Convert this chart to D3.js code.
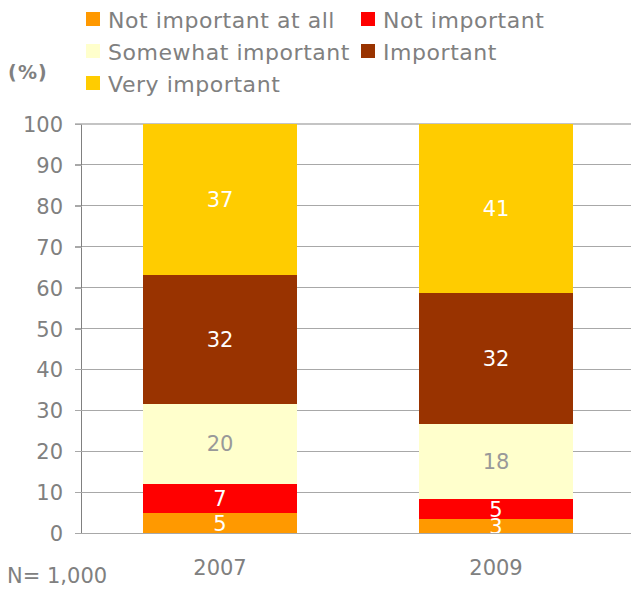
<!DOCTYPE html>
<html>
<head>
<meta charset="utf-8">
<script src="https://cdn.jsdelivr.net/npm/d3@7"></script>
<style>
  html, body { margin: 0; padding: 0; background: #fff; }
  svg { display: block; font-family: "DejaVu Sans", Verdana, sans-serif; }
</style>
</head>
<body>
<svg id="chart" width="631" height="589"></svg>
<script>
// ---- data ----
const years = ["2007", "2009"];
const seriesNames = ["Not important at all", "Not important", "Somewhat important", "Important", "Very important"];
const seriesColors = ["#FF9900", "#FF0000", "#FFFFCC", "#993300", "#FFCC00"];
const labelColors = ["#ffffff", "#ffffff", "#999999", "#ffffff", "#ffffff"];
const notAtAll   = [4.9, 3.4];
const notImp     = [7.1, 4.9];
const somewhat   = [19.6, 18.4];
const important  = [31.6, 31.9];
const veryImp    = [36.8, 41.4];
const yTicks = [0, 10, 20, 30, 40, 50, 60, 70, 80, 90, 100];
const unitLabel = "(%)";
const noteLabel = "N= 1,000";

// ---- layout ----
const svg = d3.select("#chart");
const x0 = 82, x1 = 634, yTop = 124, yBot = 533;
const gray = "#808080";

const x = d3.scaleBand().domain(years).range([x0, x1]).paddingInner(0.44).paddingOuter(0.22);
const y = d3.scaleLinear().domain([0, 100]).range([yBot, yTop]);

const table = years.map((yr, i) => {
  const row = { year: yr };
  [notAtAll, notImp, somewhat, important, veryImp].forEach((arr, k) => row[seriesNames[k]] = arr[i]);
  return row;
});
const stacked = d3.stack().keys(seriesNames)(table);

// gridlines
const grid = svg.append("g");
grid.selectAll("line").data(yTicks.filter(t => t > 0)).join("line")
  .attr("x1", x0 - 7).attr("x2", x1)
  .attr("y1", d => y(d)).attr("y2", d => y(d))
  .attr("stroke", d => d === 100 ? "#c4c4c4" : "#a8a8a8")
  .attr("stroke-width", d => d === 100 ? 2 : 1)
  .attr("shape-rendering", "crispEdges");

// bars
const bars = svg.append("g");
stacked.forEach((s, k) => {
  bars.append("g").attr("fill", seriesColors[k])
    .selectAll("rect").data(s).join("rect")
    .attr("x", d => x(d.data.year))
    .attr("width", x.bandwidth())
    .attr("y", d => y(d[1]))
    .attr("height", d => y(d[0]) - y(d[1]))
    .attr("shape-rendering", "crispEdges");
});

// axes
const yAxis = d3.axisLeft(y).tickValues(yTicks).tickSize(7).tickPadding(12);
const ya = svg.append("g").attr("transform", `translate(${x0},0)`).call(yAxis);
ya.select(".domain").attr("stroke", gray).attr("shape-rendering", "crispEdges").attr("d", `M-0.5,${yTop}V${yBot}`);
ya.selectAll(".tick line").attr("stroke", "#a8a8a8").attr("shape-rendering", "crispEdges");
ya.selectAll(".tick text").attr("fill", gray).attr("font-size", 21)
  .attr("font-family", "DejaVu Sans, Verdana, sans-serif").attr("dy", "0.36em");

// baseline at 0
svg.append("line").attr("x1", x0).attr("x2", x1).attr("y1", y(0)).attr("y2", y(0))
  .attr("stroke", "#a8a8a8").attr("shape-rendering", "crispEdges");

const xAxis = d3.axisBottom(x).tickSize(0).tickPadding(0);
const xa = svg.append("g").attr("transform", `translate(0,${yBot})`).call(xAxis);
xa.select(".domain").remove();
xa.selectAll(".tick text").attr("fill", gray).attr("font-size", 21)
  .attr("font-family", "DejaVu Sans, Verdana, sans-serif")
  .attr("dy", null).attr("y", 42);

// data labels (clipped to plot area)
svg.append("clipPath").attr("id", "plotclip").append("rect")
  .attr("x", x0).attr("y", 0).attr("width", x1 - x0).attr("height", yBot);
const lbl = svg.append("g").attr("clip-path", "url(#plotclip)");
stacked.forEach((s, k) => {
  lbl.append("g").selectAll("text").data(s).join("text")
    .attr("x", d => x(d.data.year) + x.bandwidth() / 2)
    .attr("y", d => (y(d[0]) + y(d[1])) / 2)
    .attr("dy", "0.36em")
    .attr("text-anchor", "middle")
    .attr("font-size", 21)
    .attr("fill", labelColors[k])
    .text(d => Math.round(d[1] - d[0]));
});

// legend
const legendPos = [[86, 12], [361, 12], [86, 44], [361, 44], [86, 76]];
const leg = svg.append("g");
seriesNames.forEach((name, k) => {
  const [lx, ly] = legendPos[k];
  leg.append("rect").attr("x", lx).attr("y", ly).attr("width", 14).attr("height", 14)
    .attr("fill", seriesColors[k]);
  leg.append("text").attr("x", lx + 22).attr("y", ly + 15.5)
    .attr("font-size", 22).attr("letter-spacing", 0.55).attr("fill", gray).text(name);
});

// unit label and note
svg.append("text").attr("x", 8).attr("y", 79).attr("font-size", 19).attr("font-weight", "bold")
  .attr("letter-spacing", 1.2).attr("fill", gray).text(unitLabel);
svg.append("text").attr("x", 7).attr("y", 583).attr("font-size", 21).attr("fill", gray).text(noteLabel);
</script>
</body>
</html>
